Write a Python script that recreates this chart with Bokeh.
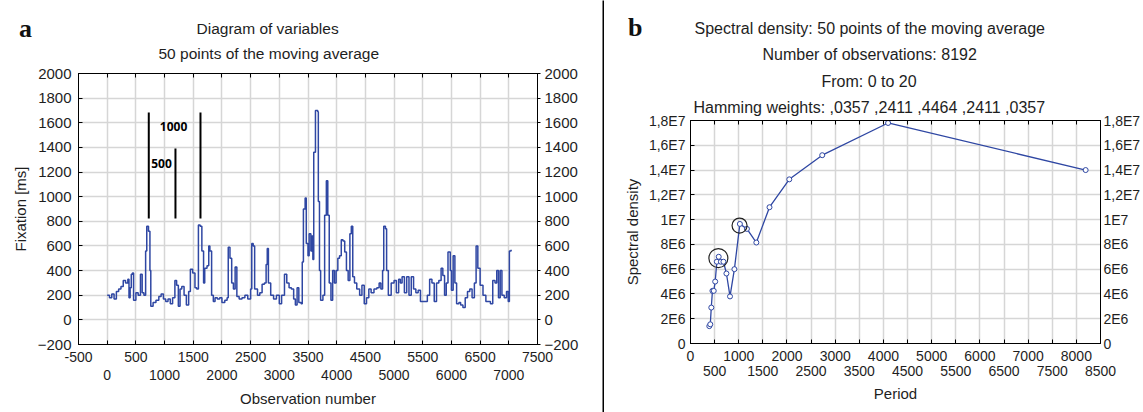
from bokeh.plotting import figure
from bokeh.models import (Range1d, LinearAxis, FixedTicker, Grid, ColumnDataSource, Title, Div,
                          CustomJSTickFormatter)
from bokeh.embed import file_html
from bokeh.resources import INLINE
from bokeh.core.properties import value

# ---------------- data: panel a (moving average of fixation) ----------------
obs_number = [0, 40, 80, 120, 160, 200, 240, 280, 320, 360,
              380, 400, 420, 440, 460, 500, 540, 580, 610, 640,
              670, 690, 720, 745, 760, 800, 850, 900, 940, 980,
              1020, 1060, 1100, 1140, 1180, 1210, 1240, 1270, 1300, 1340,
              1380, 1420, 1450, 1490, 1530, 1560, 1590, 1620, 1650, 1680,
              1700, 1740, 1770, 1790, 1820, 1850, 1880, 1920, 1960, 2000,
              2050, 2090, 2110, 2140, 2170, 2200, 2230, 2260, 2300, 2350,
              2400, 2450, 2500, 2520, 2545, 2570, 2620, 2660, 2700, 2740,
              2770, 2790, 2810, 2850, 2900, 2950, 3000, 3040, 3090, 3130,
              3170, 3210, 3250, 3280, 3310, 3340, 3380, 3400, 3420, 3450,
              3470, 3500, 3520, 3550, 3570, 3585, 3600, 3630, 3670, 3680,
              3700, 3720, 3760, 3790, 3820, 3845, 3870, 3900, 3930, 3960,
              3990, 4020, 4050, 4080, 4110, 4140, 4170, 4200, 4230, 4255,
              4280, 4310, 4350, 4400, 4440, 4480, 4520, 4560, 4600, 4650,
              4700, 4740, 4770, 4800, 4820, 4850, 4870, 4900, 4950, 5000,
              5040, 5080, 5110, 5140, 5180, 5220, 5260, 5300, 5340, 5380,
              5420, 5460, 5520, 5580, 5620, 5660, 5700, 5740, 5780, 5820,
              5850, 5880, 5910, 5940, 5980, 6000, 6030, 6060, 6090, 6130,
              6160, 6200, 6240, 6280, 6320, 6360, 6400, 6430, 6460, 6500,
              6550, 6600, 6640, 6680, 6720, 6760, 6790, 6820, 6850, 6880,
              6920, 6960, 6990, 7010, 7040]
fixation_ms = [200, 180, 210, 170, 230, 250, 270, 320, 300, 330,
               180, 260, 370, 380, 160, 220, 200, 370, 220, 200,
               560, 760, 720, 400, 110, 140, 160, 190, 210, 170,
               150, 170, 130, 180, 320, 280, 110, 250, 270, 200,
               120, 230, 410, 380, 260, 250, 770, 760, 560, 300,
               420, 440, 600, 560, 200, 150, 180, 170, 180, 140,
               160, 180, 590, 500, 300, 250, 430, 190, 170, 180,
               200, 170, 250, 620, 600, 250, 200, 220, 290, 300,
               450, 580, 300, 200, 170, 200, 130, 200, 370, 300,
               260, 250, 170, 120, 260, 140, 130, 470, 900, 990,
               620, 520, 700, 560, 680, 490, 1360, 1700, 1690, 960,
               400, 160, 200, 850, 1130, 850, 300, 160, 400, 300,
               400, 500, 520, 650, 640, 550, 400, 320, 700, 760,
               350, 300, 250, 200, 280, 130, 180, 250, 220, 250,
               260, 300, 250, 400, 760, 740, 400, 200, 300, 320,
               220, 330, 300, 350, 220, 350, 200, 350, 250, 220,
               240, 150, 150, 200, 330, 300, 150, 300, 320, 420,
               360, 200, 300, 550, 400, 240, 520, 300, 130, 140,
               120, 100, 180, 230, 250, 180, 300, 600, 420, 280,
               200, 150, 150, 130, 320, 300, 400, 180, 400, 200,
               180, 230, 150, 560, 570]

# annotation bars and labels on panel a
bar_obs = [725, 1190, 1626]
bar_top = [1683, 1391, 1683]
bar_bottom = [823, 823, 823]
note_obs = [767, 917]
note_val = [1269, 1570]
note_text = ["500", "1000"]

a_x_row1 = [-500, 500, 1500, 2500, 3500, 4500, 5500, 6500, 7500]
a_x_row2 = [0, 1000, 2000, 3000, 4000, 5000, 6000, 7000]
a_y_ticks = [-200, 0, 200, 400, 600, 800, 1000, 1200, 1400, 1600, 1800, 2000]
a_titles = ["Diagram of variables", "50 points of the moving average"]

# ---------------- data: panel b (spectral density) ----------------
period = [390, 410, 431, 455, 482, 512, 546, 585, 630, 683, 745,
          819, 910, 1024, 1170, 1365, 1638, 2048, 2731, 4096, 8192]
spectral_density = [1.4e6, 1.55e6, 2.9e6, 4.25e6, 4.25e6, 5.0e6, 6.6e6, 7.0e6, 6.6e6, 6.6e6, 5.65e6,
                    3.8e6, 6.0e6, 9.65e6, 9.25e6, 8.15e6, 1.10e7, 1.325e7, 1.52e7, 1.78e7, 1.40e7]
circled_period = [1017, 578]
circled_density = [9.52e6, 6.89e6]

b_x_row1 = [0, 1000, 2000, 3000, 4000, 5000, 6000, 7000, 8000]
b_x_row2 = [500, 1500, 2500, 3500, 4500, 5500, 6500, 7500, 8500]
b_y_ticks = [0, 2000000, 4000000, 6000000, 8000000, 10000000, 12000000, 14000000, 16000000, 18000000]
b_y_labels = ["0", "2E6", "4E6", "6E6", "8E6", "1E7", "1,2E7", "1,4E7", "1,6E7", "1,8E7"]
b_titles = ["Spectral density: 50 points of the moving average",
            "Number of observations: 8192",
            "From:  0  to  20",
            "Hamming weights:  ,0357 ,2411 ,4464 ,2411 ,0357"]

# ---------------- styling ----------------
FONT = "Liberation Sans"
TXT = "#1e1e1e"
BLUE = "#2f47a3"
GRID = "#d6d6d6"
H = 412


def pick_formatter(tick_values, tick_labels):
    return CustomJSTickFormatter(args=dict(tvals=tick_values, tlabs=tick_labels), code="""
        for (let i = 0; i < tvals.length; i++) {
            if (Math.abs(tvals[i] - tick) < 1e-6 * Math.max(1, Math.abs(tick))) { return tlabs[i]; }
        }
        return "";
    """)


def make_axis(tick_values, size, standoff, tick_labels=None, tick_in=4, tick_out=0, line=True,
              label=None, label_standoff=5):
    ax = LinearAxis(ticker=FixedTicker(ticks=tick_values, minor_ticks=[]))
    if tick_labels is not None:
        ax.formatter = pick_formatter(tick_values, tick_labels)
    ax.major_label_text_font = FONT
    ax.major_label_text_font_size = size
    ax.major_label_text_color = TXT
    ax.major_label_standoff = standoff
    ax.major_tick_in = tick_in
    ax.major_tick_out = tick_out
    ax.minor_tick_in = 0
    ax.minor_tick_out = 0
    ax.major_tick_line_color = "black" if line else None
    ax.axis_line_color = "black" if line else None
    if label:
        ax.axis_label = label
        ax.axis_label_text_font = FONT
        ax.axis_label_text_font_size = "15px"
        ax.axis_label_text_font_style = "normal"
        ax.axis_label_text_color = TXT
        ax.axis_label_standoff = label_standoff
    return ax


def add_title(p, text, offset, standoff, size):
    p.add_layout(Title(text=text, align="left", offset=offset, standoff=standoff,
                       text_font=FONT, text_font_size=size, text_font_style="normal",
                       text_color=TXT), "above")


# ================= panel a =================
p1 = figure(width=602, height=H, x_range=Range1d(-500, 7500), y_range=Range1d(-200, 2000),
            x_axis_type=None, y_axis_type=None, output_backend="svg", toolbar_location=None,
            title_location=None,
            min_border_left=78, min_border_right=65, min_border_top=73, min_border_bottom=68)
p1.outline_line_color = "black"
p1.background_fill_color = "white"
p1.border_fill_color = "white"
p1.styles = {"float": "left"}

a_x_all = sorted(a_x_row1 + a_x_row2)
p1.add_layout(Grid(dimension=0, ticker=FixedTicker(ticks=a_x_all), grid_line_color=GRID, grid_line_width=1.5))
p1.add_layout(Grid(dimension=1, ticker=FixedTicker(ticks=a_y_ticks), grid_line_color=GRID, grid_line_width=1.5))

p1.add_layout(make_axis(a_x_all, "14px", 7,
                        tick_labels=[str(t) if t in a_x_row1 else "" for t in a_x_all]), "below")
p1.add_layout(make_axis(a_x_row2, "14px", 5, line=False, tick_in=0,
                        label="Observation number", label_standoff=7), "below")
p1.add_layout(make_axis(a_y_ticks, "15px", 7, label="Fixation [ms]", label_standoff=6), "left")
p1.add_layout(make_axis(a_y_ticks, "15px", 4, tick_in=0, tick_out=3), "right")
p1.add_layout(make_axis(a_x_all, "1px", 9, tick_labels=["" for t in a_x_all]), "above")
add_title(p1, a_titles[1], 80, 24, "15.5px")
add_title(p1, a_titles[0], 118, -13, "15.5px")

p1.step(obs_number, fixation_ms, mode="after", line_color=BLUE, line_width=1.5)
p1.segment(x0=bar_obs, y0=bar_bottom, x1=bar_obs, y1=bar_top, line_color="black", line_width=2)
notes = ColumnDataSource(dict(x=note_obs, y=note_val, t=note_text))
p1.text(x="x", y="y", text="t", source=notes, text_font=value("Open Sans"), text_font_style="bold",
        text_font_size="12px", text_color="black", text_align="left", text_baseline="middle")

# ================= separator =================
sep = figure(width=2, height=H, x_axis_type=None, y_axis_type=None, output_backend="svg",
             toolbar_location=None, title_location=None, min_border=0)
sep.outline_line_color = None
sep.background_fill_color = "black"
sep.border_fill_color = "black"
sep.styles = {"float": "left"}

# ================= panel b =================
p2 = figure(width=539, height=H, x_range=Range1d(0, 8500), y_range=Range1d(0, 18000000),
            x_axis_type=None, y_axis_type=None, output_backend="svg", toolbar_location=None,
            title_location=None,
            min_border_left=86, min_border_right=41, min_border_top=120, min_border_bottom=69)
p2.outline_line_color = "black"
p2.background_fill_color = "white"
p2.border_fill_color = "white"
p2.styles = {"float": "left"}

b_x_all = sorted(b_x_row1 + b_x_row2)
p2.add_layout(Grid(dimension=0, ticker=FixedTicker(ticks=b_x_all), grid_line_color=GRID, grid_line_width=1.5))
p2.add_layout(Grid(dimension=1, ticker=FixedTicker(ticks=b_y_ticks), grid_line_color=GRID, grid_line_width=1.5))

p2.add_layout(make_axis(b_x_all, "14px", 7,
                        tick_labels=[str(t) if t in b_x_row1 else "" for t in b_x_all]), "below")
p2.add_layout(make_axis(b_x_row2, "14px", 2, line=False, tick_in=0, label="Period", label_standoff=6), "below")
p2.add_layout(make_axis(b_y_ticks, "14px", 5, tick_labels=b_y_labels, label="Spectral density",
                        label_standoff=5), "left")
p2.add_layout(make_axis(b_y_ticks, "14px", 3, tick_labels=b_y_labels, tick_in=0, tick_out=0), "right")
p2.add_layout(make_axis(b_x_all, "1px", 4, tick_labels=["" for t in b_x_all]), "above")
add_title(p2, b_titles[3], 3, 10, "16px")
add_title(p2, b_titles[2], 131, 4, "16px")
add_title(p2, b_titles[1], 72, 12, "16px")
add_title(p2, b_titles[0], 4, 2, "16px")

p2.line(period, spectral_density, line_color=BLUE, line_width=1.3)
p2.scatter(period, spectral_density, marker="circle", size=5, fill_color="white",
           line_color=BLUE, line_width=1)
p2.scatter(circled_period, circled_density, marker="circle", size=[15, 19], fill_color=None,
           line_color="#222222", line_width=1.2)

# ================= panel letters =================
letter_style = {"position": "absolute", "font-family": "Liberation Serif", "font-weight": "bold",
                "font-size": "26px", "line-height": "1", "color": "#111111"}
letter_a = Div(text="a", styles={**letter_style, "left": "14px", "top": "11px"})
letter_b = Div(text="b", styles={**letter_style, "left": "623px", "top": "10px"})

open("out.html", "w").write(file_html([p1, sep, p2, letter_a, letter_b], INLINE))
